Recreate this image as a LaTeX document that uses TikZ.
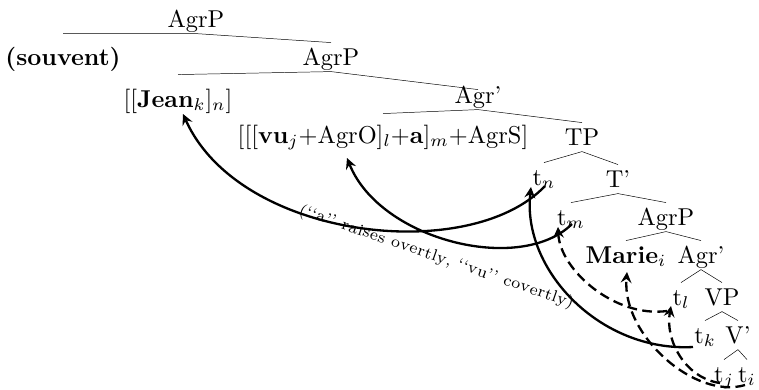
\documentclass[tikz,border=0pt]{standalone}
\usetikzlibrary{calc,decorations.text}
\begin{document}
\begin{tikzpicture}[x=0.41pt, y=-0.41pt, >=stealth,
  cat/.style={anchor=base, inner xsep=1pt, inner ysep=2.5pt, text height=6.5pt, text depth=0pt},
  branch/.style={very thin},
  move/.style={->, line width=0.95pt},
  covert/.style={move, dash pattern=on 4pt off 2.2pt}]
  \useasboundingbox (0,0) rectangle (759,389);
  \node[cat] (agrpA) at (196,27) {AgrP};
  \node[cat] (souvent) at (63,65) {\textbf{(souvent)}};
  \node[cat] (agrpB) at (331,65) {AgrP};
  \node[cat] (jean) at (178,107) {[[\textbf{Jean}$_k$]$_n$]};
  \node[cat] (agrbarA) at (478,103) {Agr'};
  \node[cat] (vu) at (383,143) {[[[\textbf{vu}$_j$+AgrO]$_l$+\textbf{a}]$_m$+AgrS]};
  \node[cat] (tp) at (582,145) {TP};
  \node[cat] (tn) at (544,185) {t$_n$};
  \node[cat] (tbar) at (618,187) {T'};
  \node[cat] (tm) at (571,225) {t$_m$};
  \node[cat] (agrpC) at (666,225) {AgrP};
  \node[cat] (marie) at (626,263) {\textbf{Marie}$_i$};
  \node[cat] (agrbarB) at (701,263) {Agr'};
  \node[cat] (tl) at (681,305) {t$_l$};
  \node[cat] (vp) at (722,305) {VP};
  \node[cat] (tk) at (705,343) {t$_k$};
  \node[cat] (vbar) at (738,343) {V'};
  \node[cat] (tj) at (724,382) {t$_j$};
  \node[cat] (ti) at (747,382) {t$_i$};
  \draw[branch] ($(souvent.north)+(0,-9)$) -- (agrpA.south) -- (agrpB.north);
  \draw[branch] ($(jean.north)+(0,-10)$) -- (agrpB.south) -- ($(agrbarA.north)+(0,9)$);
  \draw[branch] ($(vu.north)+(0,-7)$) -- (agrbarA.south) -- (tp.north);
  \draw[branch] (tn.north) -- (tp.south) -- (tbar.north);
  \draw[branch] (tm.north) -- (tbar.south) -- (agrpC.north);
  \draw[branch] (marie.north) -- (agrpC.south) -- (agrbarB.north);
  \draw[branch] (tl.north) -- (agrbarB.south) -- (vp.north);
  \draw[branch] (tk.north) -- (vp.south) -- (vbar.north);
  \draw[branch] (tj.north) -- (vbar.south) -- (ti.north);
  \draw[move] ($(tk.base)+(-12,4)$) .. controls +(-93,5) and +(-9,83) .. ($(tn.base)+(-13,2)$);
  \draw[move] ($(tn.base)+(1,1)$) .. controls +(-75,79) and +(57,126) .. ($(jean.base)+(5,7)$);
  \draw[move] ($(tm.base)+(1,-1)$) .. controls +(-52,51) and +(33,82) .. ($(vu.base)+(-36,15)$);
  \draw[covert] ($(tl.base)+(-14,6)$) .. controls +(-52,7) and +(2,43) .. ($(tm.base)+(-13,2)$);
  \draw[covert] ($(tj.base)+(-4,1)$) .. controls +(-35,-5) and +(-6,34) .. ($(tl.base)+(-10,1)$);
  \draw[covert] ($(ti.base)+(-2,3)$) .. controls +(-50,15) and +(-5,63) .. ($(marie.base)+(1,9)$);
  \path[decorate, decoration={text along path, text align=fit to path,
    text={|\fontsize{6.6pt}{8pt}\selectfont|(``a'' raises overtly, ``vu'' covertly)}}] (298,214) -- (572,308);
\end{tikzpicture}
\end{document}
